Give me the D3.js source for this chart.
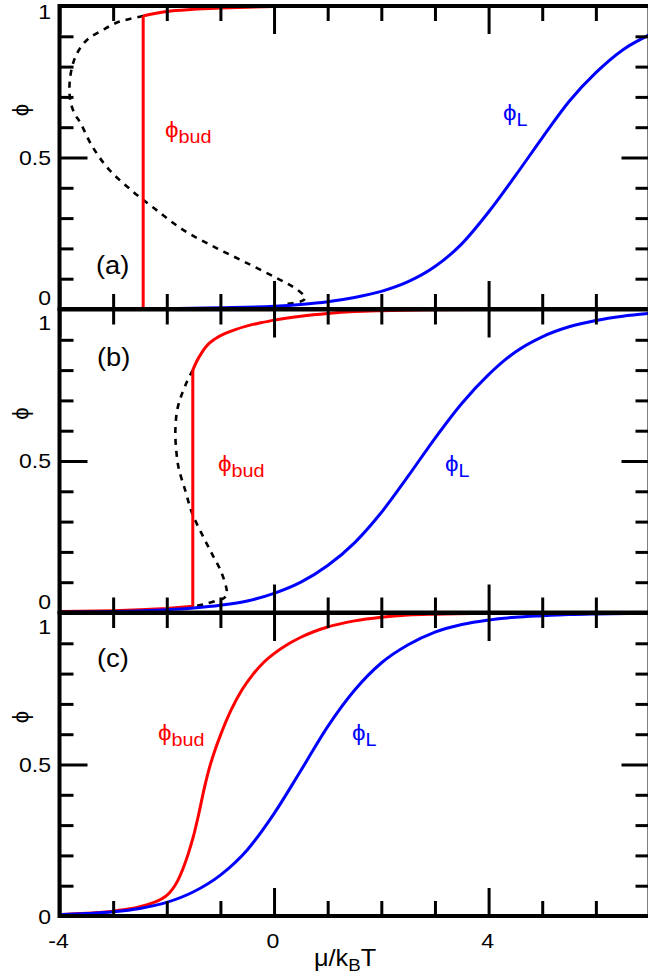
<!DOCTYPE html>
<html><head><meta charset="utf-8">
<script src="https://cdn.jsdelivr.net/npm/d3@7"></script>
<style>body{margin:0;background:#fff}svg{display:block}</style>
</head><body>
<script>
// ---------------- data ----------------
const xTickValues = [-4,-3,-2,-1,0,1,2,3,4,5,6,7];
const xMajorTicks = [-4,0,4];
const xTickLabels = ["-4","0","4"];
const yTickValues = [0.1,0.2,0.3,0.4,0.5,0.6,0.7,0.8,0.9];
const yMajorTicks = [0.5];
const yTickLabelValues = [0,0.5,1];
const yTickLabels = ["0","0.5","1"];
const panelLabels = ["(a)","(b)","(c)"];

// panel (a)
const aBlueX = [-4,-3,-2,-1,0,0.5,1,1.5,2,2.5,3,3.5,4,4.5,5,5.5,6,6.5,7];
const aBlueY = [0.0002,0.0005,0.0015,0.004,0.009,0.015,0.024,0.038,0.058,0.09,0.14,0.215,0.32,0.44,0.565,0.685,0.78,0.855,0.905];
const aRedLowX = [-4,-3,-2.44,-2.44];
const aRedLowY = [0.001,0.001,0.001,0.967];
const aRedHighX = [-2.44,-2.2,-2.0,-1.5,-1.0,-0.5,0,1,2,3,5,7];
const aRedHighY = [0.967,0.976,0.982,0.989,0.993,0.996,0.998,0.9993,0.9998,1,1,1];
const aDashX = [-2.44,-2.75,-2.96,-3.2,-3.45,-3.62,-3.74,-3.81,-3.8,-3.72,-3.61,-3.39,-3.08,-2.64,-2.21,-1.71,-1.15,-0.59,0.03,0.37,0.55,0.58,0.5,0.25];
const aDashY = [0.967,0.955,0.943,0.92,0.894,0.86,0.815,0.75,0.69,0.645,0.614,0.537,0.461,0.389,0.329,0.263,0.208,0.159,0.104,0.071,0.046,0.035,0.025,0.017];

// panel (b)
const bBlueX = [-4,-3,-2,-1.5,-1,-0.5,0,0.5,1,1.5,2,2.5,3,3.5,4,4.5,5,5.5,6,6.5,7];
const bBlueY = [0.0012,0.003,0.009,0.015,0.024,0.038,0.063,0.10,0.155,0.23,0.33,0.45,0.575,0.69,0.785,0.86,0.91,0.943,0.964,0.978,0.987];
const bRedLowX = [-4,-3,-2.5,-2,-1.515,-1.515];
const bRedLowY = [0.003,0.006,0.009,0.013,0.021,0.80];
const bRedHighX = [-1.515,-1.45,-1.35,-1.25,-1.1,-0.9,-0.75,-0.5,-0.25,0,0.5,1,1.5,2,3,4,7];
const bRedHighY = [0.80,0.826,0.857,0.881,0.903,0.922,0.932,0.946,0.956,0.965,0.978,0.987,0.993,0.996,0.999,1,1];
const bDashX = [-1.515,-1.62,-1.74,-1.81,-1.84,-1.83,-1.78,-1.65,-1.53,-1.34,-1.15,-0.99,-0.89,-0.88,-0.93,-1.06,-1.3,-1.45];
const bDashY = [0.80,0.763,0.71,0.664,0.6,0.55,0.478,0.40,0.329,0.257,0.191,0.136,0.081,0.06,0.048,0.04,0.027,0.022];

// panel (c)
const cBlueX = [-4,-3.5,-3,-2.5,-2,-1.5,-1,-0.5,0,0.5,1,1.5,2,2.5,3,3.5,4,4.5,5,5.5,6,7];
const cBlueY = [0.004,0.008,0.014,0.025,0.045,0.08,0.135,0.218,0.338,0.48,0.625,0.745,0.835,0.895,0.937,0.962,0.977,0.986,0.991,0.995,0.997,0.999];
const cRedX = [-4,-3.5,-3,-2.75,-2.5,-2.25,-2.1,-2,-1.9,-1.8,-1.7,-1.6,-1.5,-1.4,-1.3,-1.2,-1.1,-1.0,-0.8,-0.6,-0.4,-0.2,0,0.25,0.5,0.75,1,1.25,1.5,2,2.5,3,4,5,7];
const cRedY = [0.005,0.009,0.016,0.022,0.031,0.044,0.056,0.068,0.087,0.115,0.155,0.205,0.265,0.34,0.422,0.492,0.548,0.596,0.68,0.746,0.796,0.836,0.866,0.896,0.92,0.939,0.954,0.965,0.974,0.986,0.993,0.996,0.999,1,1];

// ---------------- layout ----------------
const W = 648, H = 975;
const tops = [6, 309.5, 613];
const PH = 303;
const FONT = "'Liberation Sans', Arial, Helvetica, sans-serif";
const RED = "#ff0000", BLUE = "#0000ff";
const PHI = "\u03D5";

const panels = [
  {label: panelLabels[0], labelX: 96, labelDY: 268,
   one: 6, zero: -11.5,
   blue: [aBlueX, aBlueY], red: [[aRedLowX, aRedLowY, "lin"], [aRedHighX, aRedHighY, "mono"]], dash: [aDashX, aDashY],
   budPos: [165, 137], lPos: [503, 120]},
  {label: panelLabels[1], labelX: 97, labelDY: 56.5,
   one: 13.5, zero: -11,
   blue: [bBlueX, bBlueY], red: [[bRedLowX, bRedLowY, "lin"], [bRedHighX, bRedHighY, "mono"]], dash: [bDashX, bDashY],
   budPos: [218, 471], lPos: [445, 471]},
  {label: panelLabels[2], labelX: 97, labelDY: 54,
   one: 13.5, zero: 1,
   blue: [cBlueX, cBlueY], red: [[cRedX, cRedY, "mono"]], dash: null,
   budPos: [158, 740], lPos: [352, 740]}
];

const svg = d3.select("body").append("svg").attr("width", W).attr("height", H)
  .style("font-family", FONT);

const x = d3.scaleLinear().domain([-4, 7]).range([59.5, 649.5]);

function txt(g, px, py, str, size, anchor, color, sx) {
  return g.append("text")
    .attr("transform", `translate(${px},${py}) scale(${sx || 1},1)`)
    .attr("text-anchor", anchor).attr("font-size", size)
    .attr("fill", color || "#000").text(str);
}

function zip(xs, ys) { return xs.map((v, i) => [v, ys[i]]); }

panels.forEach((p, i) => {
  const top = tops[i], bot = top + PH;
  const y = d3.scaleLinear().domain([0, 1]).range([bot, top]);
  const g = svg.append("g");
  const mk = curve => d3.line().x(d => x(d[0])).y(d => y(d[1])).curve(curve);

  // dashed spinodal
  if (p.dash) {
    g.append("path").datum(zip(p.dash[0], p.dash[1]))
      .attr("d", mk(d3.curveCatmullRom.alpha(0.5)))
      .attr("fill", "none").attr("stroke", "#000").attr("stroke-width", 2.6)
      .attr("stroke-dasharray", "6,6");
  }
  // red
  p.red.forEach(([xs, ys, kind]) => {
    g.append("path").datum(zip(xs, ys))
      .attr("d", mk(kind === "lin" ? d3.curveLinear : d3.curveMonotoneX))
      .attr("fill", "none").attr("stroke", RED).attr("stroke-width", 3);
  });
  // blue
  g.append("path").datum(zip(p.blue[0], p.blue[1]))
    .attr("d", mk(d3.curveMonotoneX))
    .attr("fill", "none").attr("stroke", BLUE).attr("stroke-width", 3);

  // axes ticks
  const minorX = xTickValues.filter(v => !xMajorTicks.includes(v));
  const minorY = yTickValues.filter(v => !yMajorTicks.includes(v));
  const addAxis = (axis, tr) => g.append("g").attr("transform", tr).call(axis)
    .call(s => { s.select(".domain").remove(); s.selectAll("text").remove();
      s.selectAll("line").attr("stroke", "#000").attr("stroke-width", 3); });
  addAxis(d3.axisBottom(x).tickValues(minorX).tickSize(-15), `translate(0,${bot})`);
  addAxis(d3.axisBottom(x).tickValues(xMajorTicks).tickSize(-28), `translate(0,${bot})`);
  addAxis(d3.axisTop(x).tickValues(minorX).tickSize(-15), `translate(0,${top})`);
  addAxis(d3.axisTop(x).tickValues(xMajorTicks).tickSize(-28), `translate(0,${top})`);
  addAxis(d3.axisLeft(y).tickValues(minorY).tickSize(-14), `translate(${x(-4)},0)`);
  addAxis(d3.axisLeft(y).tickValues(yMajorTicks).tickSize(-28), `translate(${x(-4)},0)`);
  addAxis(d3.axisRight(y).tickValues(minorY).tickSize(-14), `translate(${x(7)},0)`);
  addAxis(d3.axisRight(y).tickValues(yMajorTicks).tickSize(-28), `translate(${x(7)},0)`);

  // frame
  g.append("rect").attr("x", x(-4)).attr("y", top).attr("width", x(7) - x(-4)).attr("height", PH)
    .attr("fill", "none").attr("stroke", "#000").attr("stroke-width", 4);

  // y tick labels
  yTickLabelValues.forEach((v, k) => {
    let cy = y(v);
    if (v === 1) cy = top + p.one;
    if (v === 0) cy = bot + p.zero;
    txt(g, 51, cy + 7, yTickLabels[k], 20, "end", "#000", 1.15);
  });

  // y axis title (rotated phi)
  g.append("text").attr("transform", `translate(28,${top + 104}) rotate(-90)`)
    .attr("text-anchor", "middle").attr("font-size", 22).text(PHI);

  // panel label
  txt(g, p.labelX, top + p.labelDY, p.label, 26, "start", "#000", 1.05);

  // curve labels
  const lab = (pos, sub, color) => {
    const t = g.append("text").attr("transform", `translate(${pos[0]},${pos[1]}) scale(1.1,1)`)
      .attr("fill", color).attr("font-size", 22);
    t.append("tspan").text(PHI);
    t.append("tspan").attr("dy", 6).attr("font-size", 18).text(sub);
  };
  lab(p.budPos, "bud", RED);
  lab(p.lPos, "L", BLUE);
});

// x tick labels
xMajorTicks.forEach((v, k) => txt(svg, x(v) - 1, 948, xTickLabels[k], 21, "middle", "#000", 1.1));

// x axis title
const xt = svg.append("text").attr("transform", "translate(345,966) scale(1.1,1)")
  .attr("text-anchor", "middle").attr("font-size", 23);
xt.append("tspan").text("μ/k");
xt.append("tspan").attr("dy", 5).attr("font-size", 17).text("B");
xt.append("tspan").attr("dy", -5).text("T");
</script>
</body></html>
